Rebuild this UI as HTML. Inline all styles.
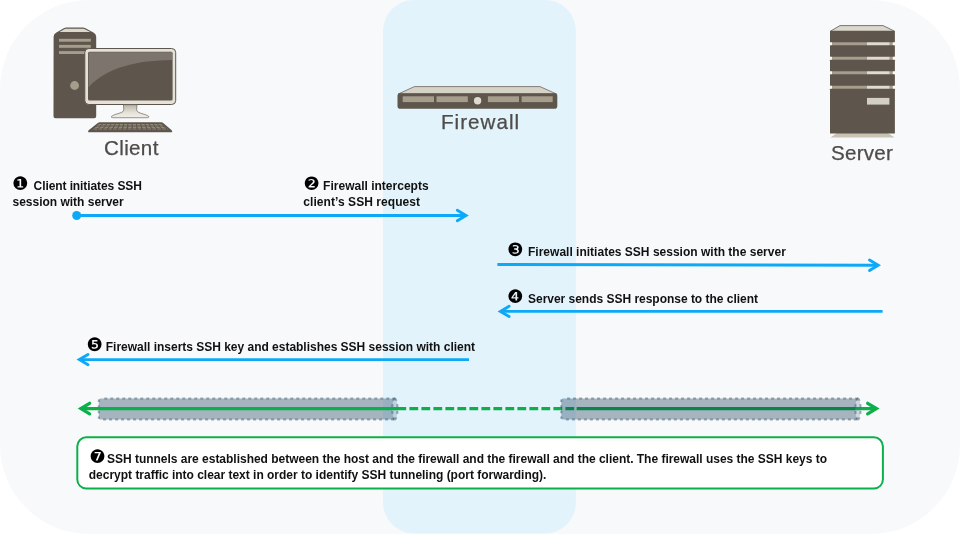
<!DOCTYPE html>
<html lang="en">
<head>
<meta charset="utf-8">
<title>SSH Proxy Decryption</title>
<style>
html,body{margin:0;padding:0;background:#fff;}
body{width:960px;height:537px;overflow:hidden;position:relative;font-family:"Liberation Sans","DejaVu Sans",sans-serif;}
svg{position:absolute;left:0;top:0;display:block;will-change:transform;}
.lbl{font-family:"Liberation Sans",sans-serif;font-size:20.6px;fill:#4f4b49;stroke:#4f4b49;stroke-width:0.25px;}
.st{font-family:"Liberation Sans",sans-serif;font-weight:bold;font-size:12px;fill:#111;}
.num{font-family:"DejaVu Sans",sans-serif;font-size:18.45px;fill:#000;}
</style>
</head>
<body>
<svg width="960" height="537" viewBox="0 0 960 537">
<!-- panel -->
<rect x="0" y="0" width="960" height="534" rx="89" ry="89" fill="#f8f9fb"/>
<!-- firewall band -->
<rect x="383" y="0" width="192.9" height="533.5" rx="31" ry="31" fill="#e3f3fc"/>

<!-- CLIENT ICON -->
<defs>
  <linearGradient id="gs" x1="0" y1="0" x2="0" y2="1"><stop offset="0" stop-color="#b9b4a8"/><stop offset="0.6" stop-color="#e4e1d8"/><stop offset="1" stop-color="#f1efe9"/></linearGradient>
</defs>
<g id="client">
  <!-- tower -->
  <path d="M53.6 36.8 Q53.6 33.9 56.4 32.4 L64.2 28 Q65 27.5 66.2 27.5 L83 27.5 Q84.2 27.5 85 28 L93.4 32.4 Q96.2 33.9 96.2 36.8 L96.2 116.2 Q96.2 118.2 94.2 118.2 L55.5 118.2 Q53.5 118.2 53.5 116.2 Z" fill="#5e564c"/>
  <path d="M65.2 28.8 L83.8 28.8 L90.4 32 L59.4 32 Z" fill="#dcd8cd"/>
  <rect x="59" y="38.8" width="31.8" height="2.9" fill="#a69d8c"/>
  <rect x="59" y="44.9" width="31.8" height="2.9" fill="#a69d8c"/>
  <rect x="59" y="51.1" width="31.8" height="2.9" fill="#a69d8c"/>
  <circle cx="74.6" cy="85.5" r="4.4" fill="#a69d8c"/>
  <!-- monitor -->
  <rect x="84.8" y="48.5" width="90.9" height="56" rx="4" ry="4" fill="#e4e1d8" stroke="#5e564c" stroke-width="1"/>
  <rect x="88" y="51.7" width="84.6" height="48.8" rx="1.5" fill="#5e564c"/>
  <path d="M88.6 52.3 L172 52.3 L172 60 C138 60.3 107 67 88.6 87.2 Z" fill="#7d756d"/>
  <!-- stand -->
  <path d="M123.4 104.7 L137 104.7 L136.6 110 Q137 112.5 141 113.3 Q147 114.8 148.8 116.5 Q149 117.7 147.5 117.7 L112.7 117.7 Q111 117.7 111.4 116.5 Q113 114.8 119 113.3 Q123.4 112.5 123.8 110 Z" fill="url(#gs)" stroke="#5e564c" stroke-width="0.6"/>
  <!-- keyboard -->
  <path d="M99.6 122.2 L161.4 122.2 Q162.4 122.2 163.2 122.9 L171.7 130.2 Q173 132.3 171 132.3 L89.3 132.3 Q87.3 132.3 88.6 130.2 L97.8 122.9 Q98.6 122.2 99.6 122.2 Z" fill="#5e564c"/>
  <g fill="none" stroke="#8f8778" stroke-width="1.05">
    <path d="M98.3 124.5 L162.9 124.5" stroke-dasharray="3.2 1.1"/>
    <path d="M96.8 126 L164.5 126" stroke-dasharray="3.35 1.15"/>
    <path d="M95.2 127.5 L166.1 127.5" stroke-dasharray="3.5 1.2"/>
    <path d="M93.6 129 L167.8 129" stroke-dasharray="3.65 1.25"/>
  </g>
</g>
<text class="lbl" x="104" y="154.8" textLength="54.4" lengthAdjust="spacing">Client</text>

<!-- FIREWALL ICON -->
<g id="fw">
  <path d="M414.4 86.6 L540 86.6 L556.6 94 L398.2 94 Z" fill="#d6d2c6" stroke="#5e564c" stroke-width="0.7" stroke-linejoin="round"/>
  <rect x="397.5" y="93.3" width="159.8" height="15.4" rx="2.8" fill="#5e564c"/>
  <rect x="402.7" y="96.3" width="31.3" height="5.8" fill="#a69d8c"/>
  <rect x="436.5" y="96.3" width="31.3" height="5.8" fill="#a69d8c"/>
  <rect x="487.9" y="96.3" width="31.1" height="5.8" fill="#a69d8c"/>
  <rect x="521.6" y="96.3" width="31.1" height="5.8" fill="#a69d8c"/>
  <circle cx="477.6" cy="100.8" r="3.7" fill="#dedad0"/>
</g>
<text class="lbl" x="441" y="128.8" textLength="78.2" lengthAdjust="spacing">Firewall</text>

<!-- SERVER ICON -->
<g id="server">
  <path d="M830.5 137.6 L894.5 137.6 L888 133 L837 133 Z" fill="#c9c3b3"/>
  <path d="M840 25.6 L883.1 25.6 L894.5 31.2 L830.4 31.2 Z" fill="#dcd8cd" stroke="#5e564c" stroke-width="0.8" stroke-linejoin="round"/>
  <g fill="#a69d8c">
    <rect x="832" y="41" width="60.8" height="5"/>
    <rect x="832" y="55.5" width="60.8" height="5"/>
    <rect x="832" y="70" width="60.8" height="5"/>
    <rect x="832" y="84.5" width="60.8" height="5"/>
  </g>
  <g fill="#dedbd0">
    <rect x="867" y="41" width="22.4" height="5"/>
    <rect x="867" y="55.5" width="22.4" height="5"/>
    <rect x="867" y="70" width="22.4" height="5"/>
    <rect x="867" y="84.5" width="22.4" height="5"/>
  </g>
  <g fill="#5e564c">
    <rect x="830" y="30.9" width="64.9" height="11.3" rx="0.6"/>
    <rect x="830" y="45.2" width="64.9" height="11.5" rx="0.6"/>
    <rect x="830" y="59.7" width="64.9" height="11.5" rx="0.6"/>
    <rect x="830" y="74.2" width="64.9" height="11.5" rx="0.6"/>
    <rect x="830" y="88.7" width="64.9" height="44.8" rx="0.6"/>
  </g>
  <rect x="867" y="97.9" width="22.4" height="6.7" fill="#d3cfc4"/>
</g>
<text class="lbl" x="831" y="159.6" textLength="61.8" lengthAdjust="spacing">Server</text>

<!-- ARROWS -->
<g fill="none" stroke="#0da9f9" stroke-width="2.9" stroke-linecap="round" stroke-linejoin="miter">
  <path d="M77 215.5 L465.5 215.5" stroke-linecap="butt"/>
  <path d="M457.3 210.3 L466.0 215.5 L457.3 220.7"/>
  <path d="M497.4 264.5 L877.5 265.3" stroke-linecap="butt"/>
  <path d="M869.5 260.1 L878.2 265.3 L869.5 270.5"/>
  <path d="M882.6 311.4 L500.5 311.4" stroke-linecap="butt"/>
  <path d="M509.1 306.2 L500.4 311.4 L509.1 316.6"/>
  <path d="M469 359.6 L79.5 359.6" stroke-linecap="butt"/>
  <path d="M88.0 354.4 L79.3 359.6 L88.0 364.8"/>
</g>
<circle cx="76.7" cy="215.5" r="4.5" fill="#0da9f9"/>

<!-- TUNNEL left (under line) -->
<g id="tl">
  <path d="M100.3 398.5 L394.9 398.5 A2.6 10.449999999999989 0 0 0 394.9 419.4 L100.3 419.4 Q98.8 419.4 98.8 417.9 L98.8 400.0 Q98.8 398.5 100.3 398.5 Z" fill="rgba(11,52,80,0.35)"/>
  <ellipse cx="394.9" cy="408.95" rx="2.6" ry="10.449999999999989" fill="rgba(60,95,120,0.22)"/>
  <g fill="none" stroke="rgba(25,60,85,0.40)" stroke-width="2" stroke-dasharray="3 3">
    <path d="M104.3 398.5 L395.9 398.5"/>
    <path d="M103.1 419.4 L395.9 419.4"/>
    <path d="M98.8 399.0 L98.8 418.9" stroke-dasharray="2.4 3.2" stroke-dashoffset="-0.6"/>
    <path d="M394.9 398.5 A2.6 10.449999999999989 0 0 1 394.9 419.4" stroke-dasharray="3 3.5"/>
    <path d="M394.9 398.5 A2.6 10.449999999999989 0 0 0 394.9 419.4" stroke-dasharray="3 3.5"/>
  </g>
</g>

<!-- GREEN line -->
<g fill="none" stroke="#0bb04b" stroke-width="3.3" stroke-linecap="round" stroke-linejoin="miter">
  <path d="M81.5 408.55 L398 408.55" stroke-linecap="butt"/>
  <path d="M397.4 408.55 L577 408.55" stroke-linecap="butt" stroke-dasharray="8.8 3.2"/>
  <path d="M576.6 408.55 L875.8 408.55" stroke-linecap="butt"/>
  <path d="M89.6 403.3 L80.9 408.55 L89.6 413.8"/>
  <path d="M867.7 403.3 L876.4 408.55 L867.7 413.8"/>
</g>

<!-- TUNNEL right (over line) -->
<g id="tr">
  <path d="M562.8 398.5 L858 398.5 A2.6 10.449999999999989 0 0 0 858 419.4 L562.8 419.4 Q561.3 419.4 561.3 417.9 L561.3 400.0 Q561.3 398.5 562.8 398.5 Z" fill="rgba(11,52,80,0.35)"/>
  <ellipse cx="858" cy="408.95" rx="2.6" ry="10.449999999999989" fill="rgba(60,95,120,0.22)"/>
  <g fill="none" stroke="rgba(25,60,85,0.40)" stroke-width="2" stroke-dasharray="3 3">
    <path d="M567.1 398.5 L859 398.5"/>
    <path d="M565.9 419.4 L859 419.4"/>
    <path d="M561.3 399.0 L561.3 418.9" stroke-dasharray="2.4 3.2" stroke-dashoffset="-0.6"/>
    <path d="M858 398.5 A2.6 10.449999999999989 0 0 1 858 419.4" stroke-dasharray="3 3.5"/>
    <path d="M858 398.5 A2.6 10.449999999999989 0 0 0 858 419.4" stroke-dasharray="3 3.5"/>
  </g>
</g>

<!-- NOTE BOX -->
<rect x="77.3" y="437.3" width="805.6" height="51.2" rx="9" ry="9" fill="#fff" stroke="#0cb04a" stroke-width="2"/>

<!-- STEP TEXT -->
<text class="num" x="12.18" y="189.52">❶</text>
<text class="st" x="33.6" y="190" textLength="108.3" lengthAdjust="spacing">Client initiates SSH</text>
<text class="st" x="12.5" y="205.8" textLength="111.2" lengthAdjust="spacing">session with server</text>

<text class="num" x="303.18" y="189.52">❷</text>
<text class="st" x="323.1" y="189.8" textLength="105.5" lengthAdjust="spacing">Firewall intercepts</text>
<text class="st" x="303.3" y="205.6" textLength="116.8" lengthAdjust="spacing">client’s SSH request</text>

<text class="num" x="507.18" y="255.52">❸</text>
<text class="st" x="528" y="255.9" textLength="257.8" lengthAdjust="spacing">Firewall initiates SSH session with the server</text>

<text class="num" x="507.18" y="302.52">❹</text>
<text class="st" x="528" y="302.6" textLength="230" lengthAdjust="spacing">Server sends SSH response to the client</text>

<text class="num" x="86.18" y="350.62">❺</text>
<text class="st" x="105.8" y="350.7" textLength="369.2" lengthAdjust="spacing">Firewall inserts SSH key and establishes SSH session with client</text>

<text class="num" x="89.13" y="462.62">❼</text>
<text class="st" x="107" y="463" textLength="720" lengthAdjust="spacing">SSH tunnels are established between the host and the firewall and the firewall and the client. The firewall uses the SSH keys to</text>
<text class="st" x="88.8" y="478.8" textLength="457.6" lengthAdjust="spacing">decrypt traffic into clear text in order to identify SSH tunneling (port forwarding).</text>
</svg>
</body>
</html>
